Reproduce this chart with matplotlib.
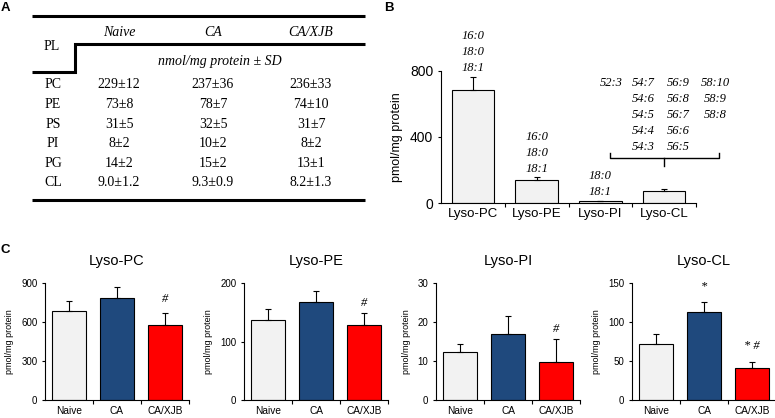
import matplotlib.pyplot as plt

plt.rcParams['font.family'] = ['Liberation Sans', 'DejaVu Sans']
SERIF = ['Liberation Serif', 'DejaVu Serif']

# ---- panel A: table of phospholipids (nmol/mg protein ± SD)
pl_classes = ['PC', 'PE', 'PS', 'PI', 'PG', 'CL']
table_groups = ['Naive', 'CA', 'CA/XJB']
naive_pl = ['229±12', '73±8', '31±5', '8±2', '14±2', '9.0±1.2']
ca_pl = ['237±36', '78±7', '32±5', '10±2', '15±2', '9.3±0.9']
xjb_pl = ['236±33', '74±10', '31±7', '8±2', '13±1', '8.2±1.3']

# ---- panel B: lyso-phospholipids in naive brain
lyso_classes = ['Lyso-PC', 'Lyso-PE', 'Lyso-PI', 'Lyso-CL']
lyso_mean = [687, 137, 10, 73]
lyso_sd = [77, 18, 4, 11]
lyso_species = [['16:0', '18:0', '18:1'], ['16:0', '18:0', '18:1'], ['18:0', '18:1']]
cl_species = [['52:3'],
              ['54:7', '54:6', '54:5', '54:4', '54:3'],
              ['56:9', '56:8', '56:7', '56:6', '56:5'],
              ['58:10', '58:9', '58:8']]

# ---- panel C: lyso-phospholipids per group
groups = ['Naive', 'CA', 'CA/XJB']
group_colors = ['#f2f2f2', '#1f497d', '#ff0000']
pc_mean, pc_sd = [685, 788, 578], [78, 84, 90]
pe_mean, pe_sd = [137, 168, 128], [18, 18, 20]
pi_mean, pi_sd = [12.3, 17.0, 9.7], [2.1, 4.5, 5.9]
cl_mean, cl_sd = [72, 113, 41], [12, 13, 8]
pc_marks = ['', '', '#']
pe_marks = ['', '', '#']
pi_marks = ['', '', '#']
cl_marks = ['', '*', '* #']

W, H = 775, 418
fig = plt.figure(figsize=(W / 100, H / 100), dpi=100)


def frac(left, top, width, height):
    # pixel box -> figure fraction
    return [left / W, (H - top - height) / H, width / W, height / H]


def style_axes(ax, n, tick_size, xlab_size, ypad):
    ax.spines['top'].set_visible(False)
    ax.spines['right'].set_visible(False)
    for s in ('left', 'bottom'):
        ax.spines[s].set_linewidth(0.8)
    ax.set_xlim(-0.5, n - 0.5)
    ax.set_xticks(range(n))
    ax.set_xticks([i + 0.5 for i in range(n)], minor=True)
    ax.tick_params(axis='x', which='major', length=0, pad=ypad, labelsize=xlab_size)
    ax.tick_params(axis='x', which='minor', length=3, width=0.8, direction='out')
    ax.tick_params(axis='y', length=2.5, width=0.8, pad=3, labelsize=tick_size)


# ---------------- A
tab = fig.add_axes([0, 0, 1, 1])
tab.set_xlim(0, W)
tab.set_ylim(H, 0)
tab.axis('off')
lw_tab = 2.2
tab.plot([32, 365], [15.5, 15.5], color='k', lw=lw_tab, solid_capstyle='butt')
tab.plot([32, 75, 75, 365], [72, 72, 44, 44], color='k', lw=lw_tab,
         solid_capstyle='butt', solid_joinstyle='miter')
tab.plot([32, 365], [200, 200], color='k', lw=lw_tab, solid_capstyle='butt')
col_x = [119, 213, 311]
for x, g in zip(col_x, table_groups):
    tab.text(x, 33, g, ha='center', va='center', family=SERIF, style='italic', fontsize=10)
tab.text(52, 46, 'PL', ha='center', va='center', family=SERIF, fontsize=10)
tab.text(220, 61, 'nmol/mg protein ± SD', ha='center', va='center', family=SERIF,
         style='italic', fontsize=10)
for i, name in enumerate(pl_classes):
    y = 85 + i * 19.6
    tab.text(53, y, name, ha='center', va='center', family=SERIF, fontsize=10)
    for x, col in zip(col_x, [naive_pl, ca_pl, xjb_pl]):
        tab.text(x, y, col[i], ha='center', va='center', family=SERIF, fontsize=10)

# ---------------- B
ax_b = fig.add_axes(frac(441, 71, 255, 132))
ax_b.bar(range(4), lyso_mean, width=0.67, color='#f2f2f2', edgecolor='k', linewidth=0.8)
ax_b.errorbar(range(4), lyso_mean, yerr=[[0] * 4, lyso_sd], fmt='none', ecolor='k',
              elinewidth=0.8, capsize=2.5, capthick=0.8)
ax_b.set_ylim(0, 800)
ax_b.set_yticks([0, 400, 800])
style_axes(ax_b, 4, 10, 9.5, 3.5)
ax_b.set_xticklabels(lyso_classes)
ax_b.set_ylabel('pmol/mg protein', fontsize=9, labelpad=5)

for i, species in enumerate(lyso_species):
    top = lyso_mean[i] + lyso_sd[i]
    for j, s in enumerate(reversed(species)):
        ax_b.annotate(s, xy=(i, top), xytext=(0, 4 + j * 11.5), textcoords='offset points',
                      ha='center', va='baseline', family=SERIF, style='italic', fontsize=9,
                      annotation_clip=False)

# bracket over Lyso-CL with the cardiolipin species
pos = ax_b.get_position()
ux = 4 / (pos.width * W)      # data units per pixel
uy = 800 / (pos.height * H)
cl_top = lyso_mean[3] + lyso_sd[3]
by = cl_top + 31.5 * uy
ax_b.plot([3 - 54.5 * ux, 3 - 54.5 * ux, 3 + 54.5 * ux, 3 + 54.5 * ux],
          [by + 5 * uy, by, by, by + 5 * uy], color='k', lw=1.0, clip_on=False)
ax_b.plot([3, 3], [by, by - 8 * uy], color='k', lw=1.0, clip_on=False)
col_off = [-53, -21, 14, 51]
for dx, col in zip(col_off, cl_species):
    for j, s in enumerate(col):
        ax_b.annotate(s, xy=(3, cl_top), xytext=(dx * 0.72, 74.5 - j * 11.5),
                      textcoords='offset points', ha='center', va='baseline', family=SERIF,
                      style='italic', fontsize=9, annotation_clip=False)

# ---------------- C
c_lefts = [45, 244, 436, 632]
c_titles = ['Lyso-PC', 'Lyso-PE', 'Lyso-PI', 'Lyso-CL']
c_means = [pc_mean, pe_mean, pi_mean, cl_mean]
c_sds = [pc_sd, pe_sd, pi_sd, cl_sd]
c_marks = [pc_marks, pe_marks, pi_marks, cl_marks]
c_mark_off = [8, 5, 5, 9]
c_yticks = [[0, 300, 600, 900], [0, 100, 200], [0, 10, 20, 30], [0, 50, 100, 150]]

for k, left in enumerate(c_lefts):
    mean, sd, marks, yt = c_means[k], c_sds[k], c_marks[k], c_yticks[k]
    ax = fig.add_axes(frac(left, 283, 144, 117))
    ax.bar(range(3), mean, width=0.69, color=group_colors, edgecolor='k', linewidth=0.8)
    ax.errorbar(range(3), mean, yerr=[[0] * 3, sd], fmt='none', ecolor='k',
                elinewidth=0.8, capsize=2.5, capthick=0.8)
    ax.set_ylim(0, yt[-1])
    ax.set_yticks(yt)
    style_axes(ax, 3, 7, 7.3, 4)
    ax.set_xticklabels(groups)
    ax.set_title(c_titles[k], fontsize=10.5, pad=13)
    ax.set_ylabel('pmol/mg protein', fontsize=6.5, labelpad=5)
    for i, m in enumerate(marks):
        if m:
            ax.annotate(m, xy=(i, mean[i] + sd[i]), xytext=(0, c_mark_off[k]),
                        textcoords='offset points', ha='center', va='baseline',
                        family=SERIF, style='italic', fontsize=9, annotation_clip=False)

# panel letters
fig.text(5 / W, 1 - 8 / H, 'A', ha='center', va='center', fontsize=9.5, fontweight='bold')
fig.text(389 / W, 1 - 8 / H, 'B', ha='center', va='center', fontsize=9.5, fontweight='bold')
fig.text(5 / W, 1 - 250 / H, 'C', ha='center', va='center', fontsize=9.5, fontweight='bold')

fig.savefig('out.png', dpi=100)
